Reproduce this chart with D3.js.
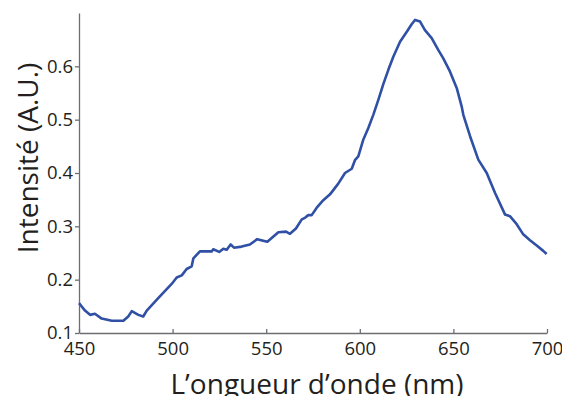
<!DOCTYPE html>
<html lang="fr">
<head>
    <meta charset="UTF-8">
    <title>Spectre d'émission</title>
    <script src="https://d3js.org/d3.v7.min.js"></script>
    <style>
        body {
            margin: 0;
            background: #fff;
            font-family: "Open Sans", sans-serif;
        }
        .tick text {
            font-size: 18.5px;
            fill: #231f20;
            font-family: "Open Sans", sans-serif;
        }
        .axis path, .axis line {
            stroke: #6d6e71;
            stroke-width: 1.3;
        }
        .axis-title {
            font-size: 28px;
            fill: #231f20;
        }
    </style>
</head>
<body>
    <div id="chart"></div>

    <script>
        // wavelength (nm) and intensity (A.U.)
        const wavelength = [450.0, 450.5, 453.2, 455.9, 458.5, 462.1, 467.5, 473.7, 476.3, 478.2,
            481.7, 484.3, 486.2, 492.2, 499.5, 502.2, 504.9, 507.5, 510.2, 511.1,
            514.6, 520.9, 521.7, 524.9, 527.1, 528.9, 531.0, 532.8, 536.9, 541.3,
            545.2, 550.6, 556.5, 560.6, 562.7, 565.9, 569.0, 570.7, 572.5, 574.3,
            577.0, 580.5, 584.1, 588.5, 592.1, 595.7, 597.4, 599.2, 601.9, 604.5,
            607.2, 609.9, 612.6, 615.2, 617.9, 621.5, 625.1, 627.7, 629.5, 632.2,
            634.8, 638.4, 641.9, 644.6, 648.2, 651.8, 654.4, 655.3, 658.9, 663.3,
            667.8, 672.2, 677.6, 680.2, 683.8, 687.3, 690.9, 694.5, 698.0, 699.8];
        const intensity = [0.156, 0.154, 0.142, 0.134, 0.136, 0.127, 0.123, 0.123, 0.131, 0.141,
            0.134, 0.131, 0.142, 0.165, 0.192, 0.204, 0.208, 0.220, 0.225, 0.240,
            0.253, 0.253, 0.257, 0.252, 0.258, 0.256, 0.266, 0.260, 0.262, 0.266,
            0.276, 0.271, 0.289, 0.290, 0.286, 0.296, 0.313, 0.316, 0.321, 0.321,
            0.335, 0.349, 0.360, 0.380, 0.400, 0.408, 0.424, 0.431, 0.463, 0.484,
            0.509, 0.537, 0.567, 0.593, 0.618, 0.646, 0.665, 0.679, 0.687, 0.684,
            0.668, 0.653, 0.631, 0.615, 0.590, 0.559, 0.525, 0.509, 0.469, 0.425,
            0.400, 0.363, 0.322, 0.319, 0.304, 0.285, 0.274, 0.264, 0.254, 0.248];
        const xTicks = [450, 500, 550, 600, 650, 700];
        const yTicks = [0.1, 0.2, 0.3, 0.4, 0.5, 0.6];

        const width = 562;
        const height = 396;
        const margin = { top: 13, right: 15, bottom: 63, left: 79 };

        const x = d3.scaleLinear()
            .domain([450, 700])
            .range([margin.left, width - margin.right]);
        const y = d3.scaleLinear()
            .domain([0.1, 0.7])
            .range([height - margin.bottom, margin.top]);

        const svg = d3.select("#chart")
            .append("svg")
            .attr("width", width)
            .attr("height", height);

        // x axis, ticks pointing up into the plot
        svg.append("g")
            .attr("class", "axis")
            .attr("transform", `translate(0, ${height - margin.bottom})`)
            .call(d3.axisBottom(x).tickValues(xTicks).tickSizeInner(-4).tickSizeOuter(0).tickPadding(9))
            .call(g => g.selectAll(".tick text").attr("dy", "0.71em"));

        // y axis, ticks pointing out
        svg.append("g")
            .attr("class", "axis")
            .attr("transform", `translate(${margin.left}, 0)`)
            .call(d3.axisLeft(y).tickValues(yTicks).tickFormat(d3.format(".1f")).tickSizeInner(4).tickSizeOuter(0).tickPadding(2));

        const line = d3.line()
            .x((d, i) => x(wavelength[i]))
            .y(d => y(d));

        svg.append("path")
            .datum(intensity)
            .attr("fill", "none")
            .attr("stroke", "#3050a5")
            .attr("stroke-width", 2.6)
            .attr("stroke-linejoin", "round")
            .attr("d", line);

        svg.append("text")
            .attr("class", "axis-title")
            .attr("text-anchor", "middle")
            .attr("x", 317)
            .attr("y", 394)
            .text("L’ongueur d’onde (nm)");

        svg.append("text")
            .attr("class", "axis-title")
            .attr("text-anchor", "middle")
            .attr("transform", "translate(38, 158) rotate(-90)")
            .text("Intensité (A.U.)");
    </script>
</body>
</html>
